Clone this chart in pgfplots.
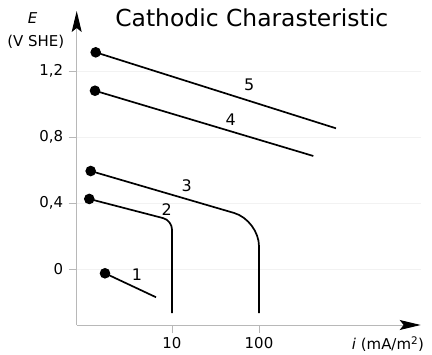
\documentclass[border=0pt]{standalone}
\usepackage{pgfplots}
\pgfplotsset{compat=1.18}
\usepackage{fontspec}
\setmainfont{DejaVu Sans}
\usetikzlibrary{arrows.meta}
\definecolor{axgray}{gray}{0.72}
\begin{document}
\begin{tikzpicture}
\path[use as bounding box] (-76.7bp,-30bp) rectangle (355.3bp,325bp);
\begin{axis}[
  at={(0,0)}, anchor=south west,
  scale only axis, width=344bp, height=314bp,
  xmode=log,
  xmin=0.8029, xmax=7220,
  ymin=-0.337, ymax=1.5636,
  axis lines=left,
  axis line style={draw=axgray, line width=1pt, -{Stealth[black, length=21bp, width=10bp, inset=4bp]}},
  xtick={10,100}, xticklabels={10,100},
  ytick={0,0.4,0.8,1.2},
  xminorticks=false, yminorticks=false,
  tick style={axgray, line width=0.8pt},
  major tick length=8bp,
  tick align=outside,
  /pgf/number format/use comma,
  /pgf/number format/assume math mode=true,
  ticklabel style={font=\fontsize{15}{17}\selectfont},
  yticklabel style={xshift=-2bp},
  xticklabel style={yshift=-1bp},
  ymajorgrids, grid style={black!5},
  clip=false,
]
\addplot[black, line width=1.7pt, mark=*, mark indices={1}, mark size=4.4bp]
  coordinates {(1.698,-0.024) (6.55,-0.169)};
\addplot[black, line width=1.7pt, mark=*, mark indices={1}, mark size=4.4bp, rounded corners=9bp]
  coordinates {(1.12,0.426) (10,0.296) (10,-0.265)};
\addplot[black, line width=1.7pt, mark=*, mark indices={1}, mark size=4.4bp, rounded corners=26bp]
  coordinates {(1.163,0.595) (100,0.297) (100,-0.265)};
\addplot[black, line width=1.7pt, mark=*, mark indices={1}, mark size=4.4bp]
  coordinates {(1.303,1.081) (421,0.686)};
\addplot[black, line width=1.7pt, mark=*, mark indices={1}, mark size=4.4bp]
  coordinates {(1.327,1.3135) (767,0.8535)};
\node[font=\fontsize{16}{18}\selectfont] at (axis cs:3.96,-0.03) {1};
\node[font=\fontsize{16}{18}\selectfont] at (axis cs:8.69,0.363) {2};
\node[font=\fontsize{16}{18}\selectfont] at (axis cs:14.75,0.506) {3};
\node[font=\fontsize{16}{18}\selectfont] at (axis cs:47.3,0.904) {4};
\node[font=\fontsize{16}{18}\selectfont] at (axis cs:77.3,1.116) {5};
\node[font=\fontsize{23.5}{26}\selectfont] at (rel axis cs:0.509,0.978) {Cathodic Charasteristic};
\node[font=\fontsize{15}{17}\selectfont\itshape] at (rel axis cs:-0.1279,0.978) {E};
\node[font=\fontsize{15}{17}\selectfont] at (rel axis cs:-0.1192,0.902) {(V SHE)};
\node[anchor=west, font=\fontsize{15}{17}\selectfont] at (rel axis cs:0.79,-0.0605) {\textit{i} (mA/m\textsuperscript{2})};
\end{axis}
\end{tikzpicture}
\end{document}
